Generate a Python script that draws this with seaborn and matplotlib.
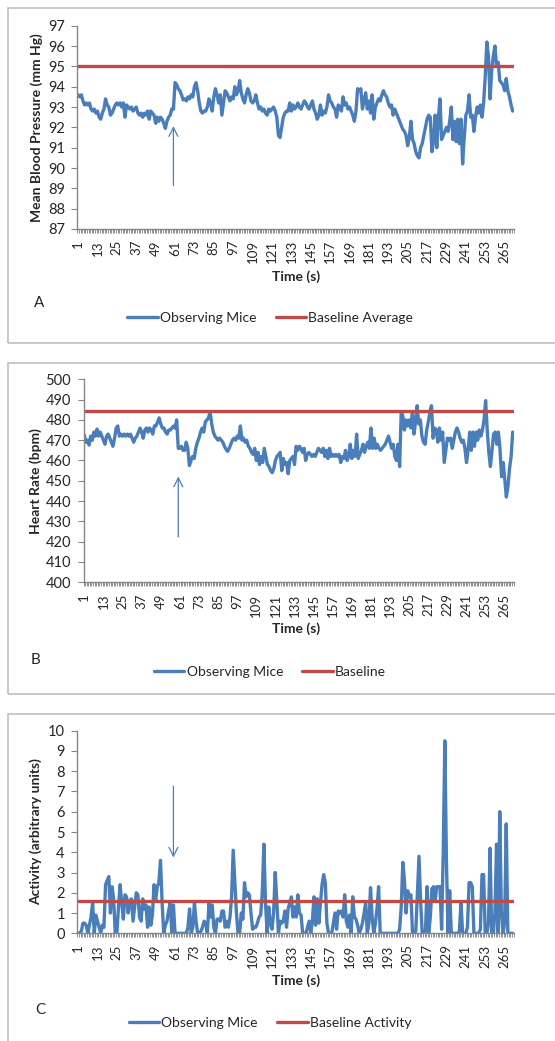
import numpy as np
import matplotlib
matplotlib.use("Agg")
import matplotlib.pyplot as plt
from matplotlib.patches import Rectangle
import seaborn as sns

# ---------------- data ----------------
mbp_observing = [
    93.6, 93.5, 93.6, 93.3, 93.1, 93.2, 93.1, 93.2, 92.9, 92.8,
    92.9, 92.7, 92.8, 92.5, 92.4, 92.7, 92.9, 93.4, 93.1, 93.0,
    92.6, 92.7, 92.9, 93.1, 93.2, 93.1, 93.2, 93.0, 93.2, 92.5,
    93.1, 93.0, 92.9, 93.0, 92.8, 92.9, 93.0, 92.7, 92.6, 92.7,
    92.5, 92.7, 92.6, 92.8, 92.4, 92.8, 92.7, 92.6, 92.2, 92.5,
    92.3, 92.5, 92.4, 92.2, 91.95, 92.3, 92.5, 92.6, 92.9, 92.9,
    94.2, 94.1, 93.9, 93.8, 93.6, 93.35, 93.4, 93.3, 93.5, 93.4,
    93.6, 93.5, 94.0, 94.2, 93.8, 93.2, 92.8, 92.7, 92.8, 92.8,
    93.0, 93.4, 93.2, 92.8, 93.5, 93.9, 93.6, 93.2, 93.6, 92.6,
    93.2, 93.8, 93.7, 93.5, 93.3, 93.5, 93.4, 94.0, 93.6, 93.8,
    94.3, 93.7, 93.4, 93.2, 93.6, 93.9, 93.7, 93.3, 93.2, 93.3,
    93.6, 93.2, 92.9, 93.0, 92.8, 92.9, 92.7, 92.6, 92.9, 92.8,
    92.9, 93.0, 92.8, 92.5, 91.6, 91.5, 92.0, 92.5, 92.7, 92.8,
    92.8, 93.2, 92.8, 93.1, 92.9, 93.0, 93.2, 93.0, 92.9, 93.1,
    93.3, 93.2, 93.0, 92.9, 93.1, 93.3, 92.9, 92.7, 92.4, 92.6,
    93.1, 92.6, 92.8, 92.7, 93.0, 93.6, 93.3, 93.2, 93.0, 92.9,
    92.5, 93.1, 93.0, 92.8, 93.5, 93.1, 93.2, 92.9, 93.0, 92.8,
    92.6, 92.3, 92.8, 93.9, 93.8, 93.9, 92.9, 93.3, 93.7, 92.9,
    93.3, 92.7, 93.6, 92.4, 93.0, 93.2, 93.4, 93.3, 93.6, 93.8,
    93.6, 93.5, 93.2, 93.0, 93.1, 92.6, 92.9, 92.7, 92.5, 92.3,
    92.1, 91.9, 91.8, 91.6, 91.1, 91.5, 92.3, 91.4, 91.2, 90.8,
    90.6, 90.5, 91.0, 91.2, 91.6, 92.0, 92.4, 92.6, 92.5, 90.8,
    91.3, 92.6, 91.0, 92.5, 93.4, 91.4, 91.6, 91.8, 92.0, 91.8,
    92.3, 93.0, 91.4, 92.3, 91.3, 92.4, 91.2, 92.4, 90.2, 91.5,
    92.6, 92.8, 93.6, 92.5, 92.6, 91.8, 92.5, 93.0, 92.7, 93.1,
    92.5, 93.2, 94.5, 96.2, 95.5, 93.4, 94.8, 95.5, 96.0, 95.0,
    95.2, 94.3, 94.2, 94.1, 93.8, 94.4, 93.8, 93.5, 93.1, 92.8,
]
mbp_baseline = 95.0

hr_observing = [
    472.6, 469, 470, 467.6, 472, 470, 474, 472, 475.5, 472,
    474, 472, 470, 468, 472, 473, 471, 469, 467, 471,
    476, 477, 472, 473, 472, 473, 472, 473, 472, 473,
    471, 469, 471, 472, 474, 476, 474, 471, 475, 476,
    474, 476, 475, 473, 477, 477, 479, 481, 478, 476,
    476, 474, 473, 475, 475, 476, 477, 476, 480, 466,
    466, 467, 465, 465, 469, 466, 457.5, 460, 462, 461,
    466, 469, 471, 474, 476, 474, 479, 480, 481, 484,
    478, 474, 472, 471, 470, 471, 470, 469, 467, 465.5,
    464.5, 466, 468, 470, 471, 470, 472, 471, 477, 470,
    471, 469, 470, 467, 466, 464, 463, 466, 460, 464,
    458, 462, 459, 466, 462, 458, 457, 455, 454, 456,
    460, 462, 463, 464, 455, 461, 458, 459, 453.5, 460,
    461, 462, 458, 467, 465, 467, 466, 464, 466, 460,
    463, 464, 463, 462, 463, 462, 464, 466, 465, 464,
    466, 462, 465, 461, 466, 462, 463, 462, 463, 462,
    463, 459, 462, 461, 465, 460, 462, 468, 461, 465,
    462, 473, 461, 463, 465, 468, 464, 467, 469, 466,
    476, 466, 471, 466, 468, 466, 465, 466, 467, 468,
    470, 472, 469, 466, 468, 462, 460, 468, 457, 484,
    482, 475, 480, 477, 480, 476, 484, 473, 479, 487,
    478, 480, 472, 469, 468, 475, 479, 484, 487, 471,
    476, 475, 469, 476, 470, 474, 459, 465, 471, 470,
    471, 466, 470, 474, 476, 474, 471, 469, 470, 466,
    459, 465, 474, 465, 474, 467, 474, 470, 475, 472,
    475, 480, 489.5, 475, 464, 457, 465, 473, 474, 468,
    474, 466, 452, 459, 451, 442, 447, 456, 462, 474,
]
hr_baseline = 484.2

act_observing = [
    0, 0, 0.1, 0.5, 0.5, 0.4, 0, 0.4, 0.8, 1.5,
    0, 0.9, 0.6, 0.3, 0, 0.4, 0.3, 2.4, 2.6, 2.8,
    1.0, 2.3, 1.7, 0, 0, 1.3, 2.4, 1.5, 0.7, 1.9,
    1.8, 1.0, 1.6, 1.7, 0.6, 1.3, 2.0, 1.9, 0.8, 0.6,
    1.7, 1.2, 1.4, 0.3, 1.3, 0.4, 0.9, 2.4, 1.6, 2.3,
    2.5, 3.6, 1.5, 0, 0.4, 0.6, 1.1, 1.5, 0, 1.4,
    0, 0, 0, 0, 0, 0, 0, 0, 0.3, 1.2,
    0, 0.3, 1.5, 0.6, 0, 0, 0.1, 0.3, 0.6, 0.5,
    0, 1.5, 0.8, 1.4, 0.3, 0, 0.7, 0.7, 0.6, 1.1,
    1.1, 0.3, 0.6, 0.3, 0.8, 1.8, 4.1, 2.5, 1.0, 0,
    0, 1.0, 0.7, 2.5, 1.8, 2.0, 1.9, 1.0, 0.2, 0.3,
    0.3, 0.5, 0.8, 0.9, 2.0, 4.4, 1.5, 0, 1.3, 0.5,
    0.2, 1.0, 3.0, 1.6, 0, 0.6, 0.5, 0.6, 1.1, 0.3,
    1.2, 1.5, 1.8, 0.8, 1.3, 0.8, 1.9, 1.0, 0.9, 0,
    0, 0, 0.3, 0.6, 0, 0.6, 1.8, 0.4, 1.7, 0.5,
    1.5, 2.4, 2.9, 2.5, 0.5, 0, 0, 0, 0.5, 1.0,
    0.2, 1.1, 1.0, 1.1, 0.8, 1.9, 0.6, 0.3, 0.9, 0,
    1.8, 0.8, 0.7, 0.4, 0, 0.2, 0.5, 1.0, 1.5, 0,
    0.5, 2.25, 0.8, 0, 0.5, 1.2, 2.3, 0, 0, 0,
    0, 0, 0, 0, 0, 0, 0, 0, 0, 0.2,
    1.3, 3.5, 2.6, 1.0, 2.1, 1.8, 1.9, 0, 0, 0.1,
    2.0, 3.8, 1.6, 0, 0, 0.1, 2.3, 0, 0.8, 2.2,
    2.3, 1.6, 2.3, 2.3, 2.3, 0.2, 4.0, 9.5, 3.5, 0,
    2.1, 0, 0, 0, 0, 0, 0.1, 1.5, 0, 0,
    0, 0.3, 2.5, 2.5, 2.3, 0, 0, 0, 0, 0.2,
    2.9, 2.9, 0, 0, 0.5, 4.2, 0, 0, 1.0, 4.4,
    0, 6.0, 1.0, 0, 0.5, 5.4, 0, 0, 0, 0,
]
act_baseline = 1.6

time_s = np.arange(1, len(mbp_observing) + 1)
time_ticks = np.arange(1, 270, 12)

# ---------------- style ----------------
sns.set_theme(style="white")
plt.rcParams["font.family"] = ["Lato", "DejaVu Sans"]

BLUE = "#4A7EBB"
RED = "#BE4B48"
AXIS_GREY = "#868686"

W, H = 555, 1041
fig = plt.figure(figsize=(W / 100, H / 100), dpi=100)


def px_axes(left, top, right, bottom):
    return [left / W, 1 - bottom / H, (right - left) / W, (bottom - top) / H]


def fx(x):
    return x / W


def fy(y):
    return 1 - y / H


# grey frames round each chart
for top, bottom in [(8, 343), (363, 694), (714, 1045)]:
    fig.add_artist(Rectangle((fx(8), fy(bottom)), fx(600) - fx(8), fy(top) - fy(bottom),
                             transform=fig.transFigure, fill=False,
                             edgecolor="#BFBFBF", lw=1.2))

panels = [
    dict(data=mbp_observing, base=mbp_baseline, base_label="Baseline Average",
         box=(77.3, 25.7, 513.5, 229), ylim=(87, 97), yticks=np.arange(87, 98, 1),
         ylabel="Mean Blood Pressure (mm Hg)", ylab_xy=(37, 128),
         xlab_y=277, letter="A", letter_xy=(39, 303), leg_y=318,
         arrow=((60, 89.0), (60, 92.2))),
    dict(data=hr_observing, base=hr_baseline, base_label="Baseline",
         box=(83.5, 379.3, 513.5, 582.3), ylim=(400, 500), yticks=np.arange(400, 501, 10),
         ylabel="Heart Rate (bpm)", ylab_xy=(36, 481),
         xlab_y=629, letter="B", letter_xy=(36, 660), leg_y=672,
         arrow=((60, 421), (60, 453.5))),
    dict(data=act_observing, base=act_baseline, base_label="Baseline Activity",
         box=(77.3, 730.7, 513.5, 933.3), ylim=(0, 10), yticks=np.arange(0, 11, 1),
         ylabel="Activity (arbitrary units)", ylab_xy=(36, 832),
         xlab_y=981, letter="C", letter_xy=(40, 1010), leg_y=1023,
         arrow=((60, 7.4), (60, 3.6))),
]

for p in panels:
    ax = fig.add_axes(px_axes(*p["box"]))
    sns.lineplot(x=time_s, y=p["data"], ax=ax, color=BLUE, lw=2.4,
                 label="Observing Mice")
    ax.axhline(p["base"], color=RED, lw=2.4, label=p["base_label"])

    ax.set_xlim(0.5, 270.5)
    ax.set_ylim(*p["ylim"])
    ax.set_yticks(p["yticks"])
    ax.set_xticks(time_ticks)
    ax.set_xticklabels([str(t) for t in time_ticks], rotation=90, fontsize=9.5)
    ax.set_xticks(np.arange(0.5, 271, 1), minor=True)
    ax.tick_params(axis="x", which="major", length=0, pad=8)
    ax.tick_params(axis="x", which="minor", length=3.2, width=0.6,
                   color="#7F7F7F", direction="out", bottom=True)
    ax.tick_params(axis="y", which="major", length=4, width=0.8,
                   color=AXIS_GREY, direction="out", left=True, pad=5,
                   labelsize=10.5)

    for side in ["top", "right"]:
        ax.spines[side].set_visible(False)
    for side in ["left", "bottom"]:
        ax.spines[side].set_color(AXIS_GREY)
        ax.spines[side].set_linewidth(1)

    ax.set_ylabel(p["ylabel"], fontsize=10, fontweight="bold")
    ax.yaxis.set_label_coords(fx(p["ylab_xy"][0]), fy(p["ylab_xy"][1]),
                              transform=fig.transFigure)
    ax.set_xlabel("Time (s)", fontsize=10, fontweight="bold")
    ax.xaxis.set_label_coords(fx(296), fy(p["xlab_y"]), transform=fig.transFigure)
    ax.xaxis.label.set_va("center")
    ax.yaxis.label.set_va("center")

    (x0, y0), (x1, y1) = p["arrow"]
    ax.annotate("", xy=(x1, y1), xytext=(x0, y0),
                arrowprops=dict(arrowstyle="->", color=BLUE, lw=0.9,
                                mutation_scale=16))

    fig.text(fx(p["letter_xy"][0]), fy(p["letter_xy"][1]), p["letter"],
             fontsize=11, ha="center", va="center")

    ax.legend(loc="center", bbox_to_anchor=(fx(270), fy(p["leg_y"])),
              bbox_transform=fig.transFigure, ncol=2, frameon=False,
              fontsize=10, handlelength=2.2, handletextpad=0.15,
              columnspacing=1.4, borderpad=0)

fig.savefig("out.png", dpi=100)
